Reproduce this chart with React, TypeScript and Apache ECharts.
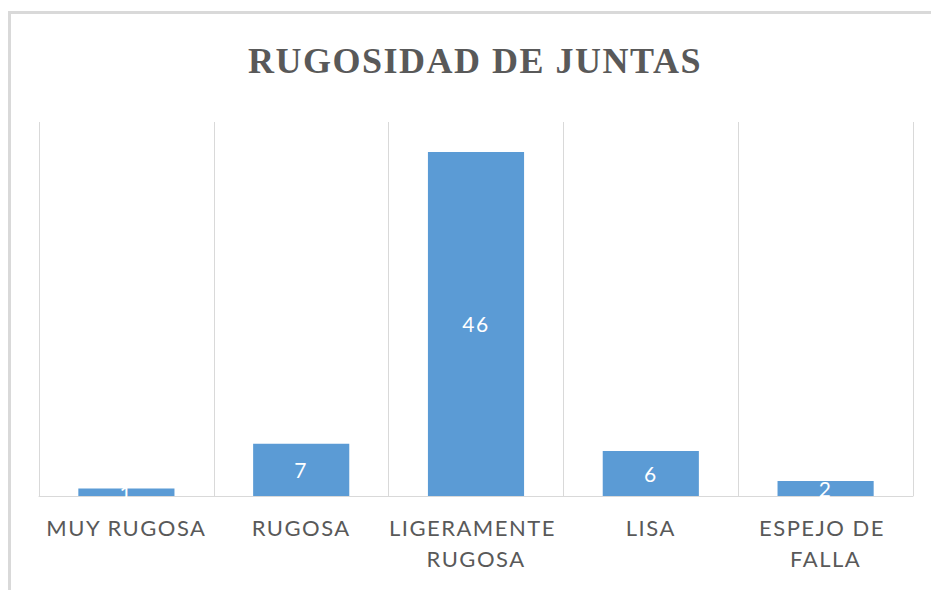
import React, { useEffect, useRef } from "react";
import * as echarts from "echarts";

const titleText = "RUGOSIDAD DE JUNTAS";
const categories = ["MUY RUGOSA", "RUGOSA", "LIGERAMENTE RUGOSA", "LISA", "ESPEJO DE FALLA"];
const values = [1, 7, 46, 6, 2];

export default function App() {
  const ref = useRef<HTMLDivElement>(null);
  useEffect(() => {
    if (!ref.current) return;
    const chart = echarts.init(ref.current, undefined, { renderer: "svg" });
    chart.setOption({
      animation: false,
      backgroundColor: "#ffffff",
      graphic: [
        {
          type: "rect",
          shape: { x: 9.5, y: 12.5, width: 1000, height: 1000 },
          style: { fill: "none", stroke: "#d9d9d9", lineWidth: 3 },
          silent: true,
        },
        {
          type: "text",
          x: 475,
          y: 61,
          style: {
            text: titleText,
            font: "bold 36px 'Liberation Serif', serif",
            fill: "#595959",
            textAlign: "center",
            textVerticalAlign: "middle",
          },
        },
      ],
      grid: { left: 39, right: 18, top: 122, bottom: 94, containLabel: false },
      xAxis: {
        type: "category",
        data: categories,
        boundaryGap: true,
        axisLine: { show: true, lineStyle: { color: "#d9d9d9", width: 1 } },
        axisTick: { show: false },
        splitLine: { show: true, lineStyle: { color: "#d9d9d9", width: 1 } },
        axisLabel: {
          interval: 0,
          margin: 16,
          color: "#595959",
          fontFamily: "Lato, 'Open Sans', sans-serif",
          fontSize: 22,
          lineHeight: 31,
          width: 172,
          overflow: "break",
          align: "center",
        },
      },
      yAxis: {
        type: "value",
        min: 0,
        max: 50,
        show: false,
        splitLine: { show: false },
      },
      series: [
        {
          type: "bar",
          data: values,
          barWidth: "55%",
          itemStyle: { color: "#5b9bd5" },
          label: {
            show: true,
            position: "inside",
            color: "#ffffff",
            fontFamily: "Lato, 'Open Sans', sans-serif",
            fontSize: 21,
          },
        },
      ],
    });
    return () => chart.dispose();
  }, []);
  return (
    <div
      ref={ref}
      style={{
        position: "absolute",
        left: 0,
        top: 0,
        width: 931,
        height: 590,
        letterSpacing: "1.5px",
      }}
    />
  );
}
